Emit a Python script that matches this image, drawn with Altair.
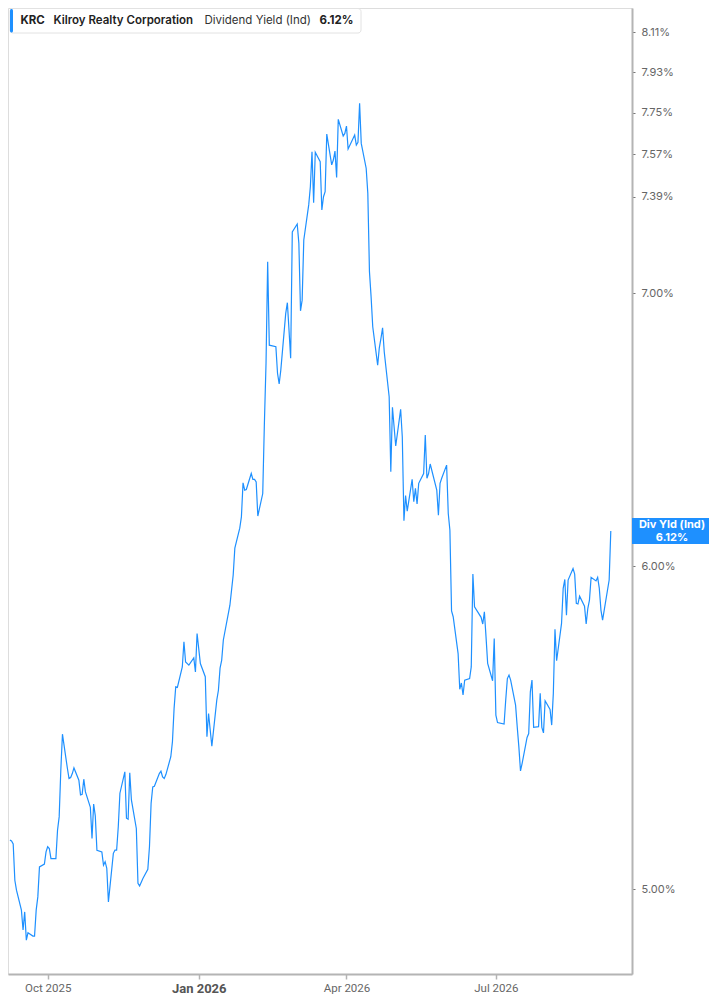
import altair as alt
import pandas as pd

# ---- data (KRC dividend yield, %) ----
START_DATE = "2025-09-08"
END_DATE = "2026-09-09"
HOLIDAYS = ["2025-11-27", "2025-12-25", "2026-01-01", "2026-01-19", "2026-02-16",
            "2026-04-03", "2026-05-25", "2026-06-19", "2026-07-03", "2026-09-07"]

yield_pct = [
    5.140, 5.138, 5.129, 5.025, 4.997, 4.941, 4.886, 4.936, 4.858, 4.878,
    4.869, 4.869, 4.941, 4.978, 5.063, 5.071, 5.106, 5.121, 5.116, 5.087,
    5.087, 5.169, 5.208, 5.347, 5.457, 5.353, 5.322, 5.325, 5.337, 5.354,
    5.317, 5.273, 5.275, 5.320, 5.282, 5.236, 5.145, 5.246, 5.211, 5.111,
    5.106, 5.068, 5.078, 5.059, 4.964, 5.102, 5.111, 5.111, 5.179, 5.278,
    5.342, 5.204, 5.201, 5.339, 5.258, 5.174, 5.016, 5.009, 5.030, 5.056,
    5.121, 5.248, 5.297, 5.299, 5.337, 5.344, 5.327, 5.322, 5.334, 5.388,
    5.434, 5.537, 5.605, 5.603, 5.668, 5.749, 5.684, 5.674, 5.697, 5.652,
    5.776, 5.679, 5.637, 5.449, 5.521, 5.470, 5.420, 5.563, 5.594, 5.664,
    5.690, 5.755, 5.869, 5.919, 5.970, 6.061, 6.130, 6.169, 6.289, 6.263,
    6.265, 6.322, 6.301, 6.301, 6.292, 6.172, 6.251, 6.504, 6.728, 7.125,
    6.797, 6.791, 6.690, 6.650, 6.702, 6.920, 6.962, 6.855, 6.747, 7.246,
    7.278, 7.199, 6.930, 6.972, 7.213, 7.357, 7.433, 7.581, 7.366, 7.579,
    7.539, 7.336, 7.391, 7.412, 7.657, 7.525, 7.546, 7.584, 7.472, 7.721,
    7.649, 7.660, 7.692, 7.593, 7.653, 7.610, 7.622, 7.791, 7.617, 7.511,
    7.405, 7.085, 6.985, 6.868, 6.721, 6.787, 6.823, 6.864, 6.772, 6.602,
    6.328, 6.563, 6.491, 6.421, 6.555, 6.454, 6.156, 6.244, 6.189, 6.301,
    6.222, 6.269, 6.214, 6.287, 6.322, 6.461, 6.305, 6.322, 6.356, 6.263,
    6.175, 6.287, 6.305, 6.352, 6.181, 6.123, 5.850, 5.831, 5.711, 5.597,
    5.617, 5.579, 5.626, 5.631, 5.668, 5.973, 5.864, 5.829, 5.807, 5.847,
    5.765, 5.679, 5.624, 5.760, 5.516, 5.493, 5.488, 5.563, 5.631, 5.642,
    5.626, 5.547, 5.480, 5.418, 5.345, 5.368, 5.447, 5.459, 5.589,
    5.626, 5.478, 5.480, 5.584, 5.478, 5.461, 5.561, 5.534, 5.485, 5.584,
    5.790, 5.688, 5.809, 5.925, 5.955, 5.836, 5.953, 5.992, 5.973, 5.875,
    5.873, 5.899, 5.866, 5.807, 5.858, 5.886, 5.962, 5.950, 5.962, 5.925,
    5.853, 5.820, 5.953, 6.120,
]

y_ticks = [5.00, 6.00, 7.00, 7.39, 7.57, 7.75, 7.93, 8.11]
y_domain = [4.766, 8.222]

ticker = "KRC"
company = "Kilroy Realty Corporation"
metric = "Dividend Yield (Ind)"
last_label = "6.12%"
badge_title = "Div Yld (Ind)"

# ---- build table ----
trade_days = pd.bdate_range(START_DATE, END_DATE, freq="C", holidays=HOLIDAYS)
n = min(len(trade_days), len(yield_pct))
df = pd.DataFrame({
    "date": [d.strftime("%Y-%m-%d") for d in trade_days[-n:]],
    "yld": yield_pct[-n:],
})
last_df = df.tail(1)
dummy = pd.DataFrame({"a": [0]})

BLUE = "#1e90ff"
W, H = 624, 966

x_enc = alt.X(
    "date:T",
    scale=alt.Scale(
        type="utc",
        domain=[alt.DateTime(year=2025, month=9, date=6, hours=20, utc=True),
                alt.DateTime(year=2026, month=9, date=21, hours=22, utc=True)],
    ),
    axis=alt.Axis(
        title=None,
        values=[alt.DateTime(year=2025, month=10, date=1, utc=True),
                alt.DateTime(year=2026, month=1, date=1, utc=True),
                alt.DateTime(year=2026, month=4, date=1, utc=True),
                alt.DateTime(year=2026, month=7, date=1, utc=True)],
        labelExpr="utcFormat(datum.value, '%b %Y')",
        grid=False,
        domainColor="#b4b4b4",
        domainWidth=2,
        tickColor="#b4b4b4",
        tickSize=5,
        tickWidth=1.5,
        labelPadding=3,
        labelFont="Roboto",
        labelFontSize={"condition": {"test": "utcmonth(datum.value) == 0", "value": 13}, "value": 11.5},
        labelFontWeight={"condition": {"test": "utcmonth(datum.value) == 0", "value": "bold"}, "value": "normal"},
        labelColor={"condition": {"test": "utcmonth(datum.value) == 0", "value": "#555555"}, "value": "#666666"},
    ),
)

y_enc = alt.Y(
    "yld:Q",
    scale=alt.Scale(type="log", domain=y_domain, nice=False, zero=False),
    axis=alt.Axis(
        title=None,
        orient="right",
        values=y_ticks,
        labelExpr="format(datum.value, '.2f') + '%'",
        grid=False,
        domainColor="#b4b4b4",
        domainWidth=2,
        tickColor="#777777",
        tickSize=3,
        tickWidth=1,
        labelPadding=6,
        labelFont="Inter",
        labelFontSize=11,
        labelColor="#666666",
    ),
)

line = alt.Chart(df).mark_line(color=BLUE, strokeWidth=1.2).encode(x=x_enc, y=y_enc)

badge = alt.Chart(last_df).mark_tick(
    color=BLUE, orient="horizontal", thickness=26, size=77, opacity=1
).encode(x=alt.value(662.5), y=y_enc)

badge_t1 = alt.Chart(last_df).mark_text(
    text=badge_title, color="white", font="Inter", fontWeight="bold", fontSize=11,
    dy=-6, align="center", baseline="middle"
).encode(x=alt.value(664), y=y_enc)

badge_t2 = alt.Chart(last_df).mark_text(
    text=last_label, color="white", font="Inter", fontWeight="bold", fontSize=11,
    dy=7, align="center", baseline="middle"
).encode(x=alt.value(664), y=y_enc)

# header box
box = alt.Chart(dummy).mark_rect(
    fill="white", stroke="#e2e2e2", strokeWidth=1, cornerRadius=3
).encode(x=alt.value(2), x2=alt.value(353), y=alt.value(0.5), y2=alt.value(25))

bar = alt.Chart(dummy).mark_rect(fill=BLUE, cornerRadius=1.5).encode(
    x=alt.value(2), x2=alt.value(5), y=alt.value(1), y2=alt.value(24.5)
)


def htext(txt, xpos, weight, color="#222222"):
    return alt.Chart(dummy).mark_text(
        text=txt, align="left", baseline="middle", font="Inter",
        fontSize=11.5, fontWeight=weight, color=color
    ).encode(x=alt.value(xpos), y=alt.value(13))


t_ticker = htext(ticker, 12.5, "bold")
t_company = htext(company, 45.5, 600)
t_metric = htext(metric, 196.5, "normal", "#333333")
t_value = htext(last_label, 311.5, "bold")

chart = alt.layer(
    line, badge, badge_t1, badge_t2, box, bar, t_ticker, t_company, t_metric, t_value
).properties(
    width=W, height=H,
    autosize=alt.AutoSizeParams(type="none"),
    padding={"left": 0, "top": 0, "right": 77, "bottom": 23},
).configure_view(stroke=None).configure(background="white")

chart.save("out.html", embed_options={"renderer": "svg", "actions": False})
